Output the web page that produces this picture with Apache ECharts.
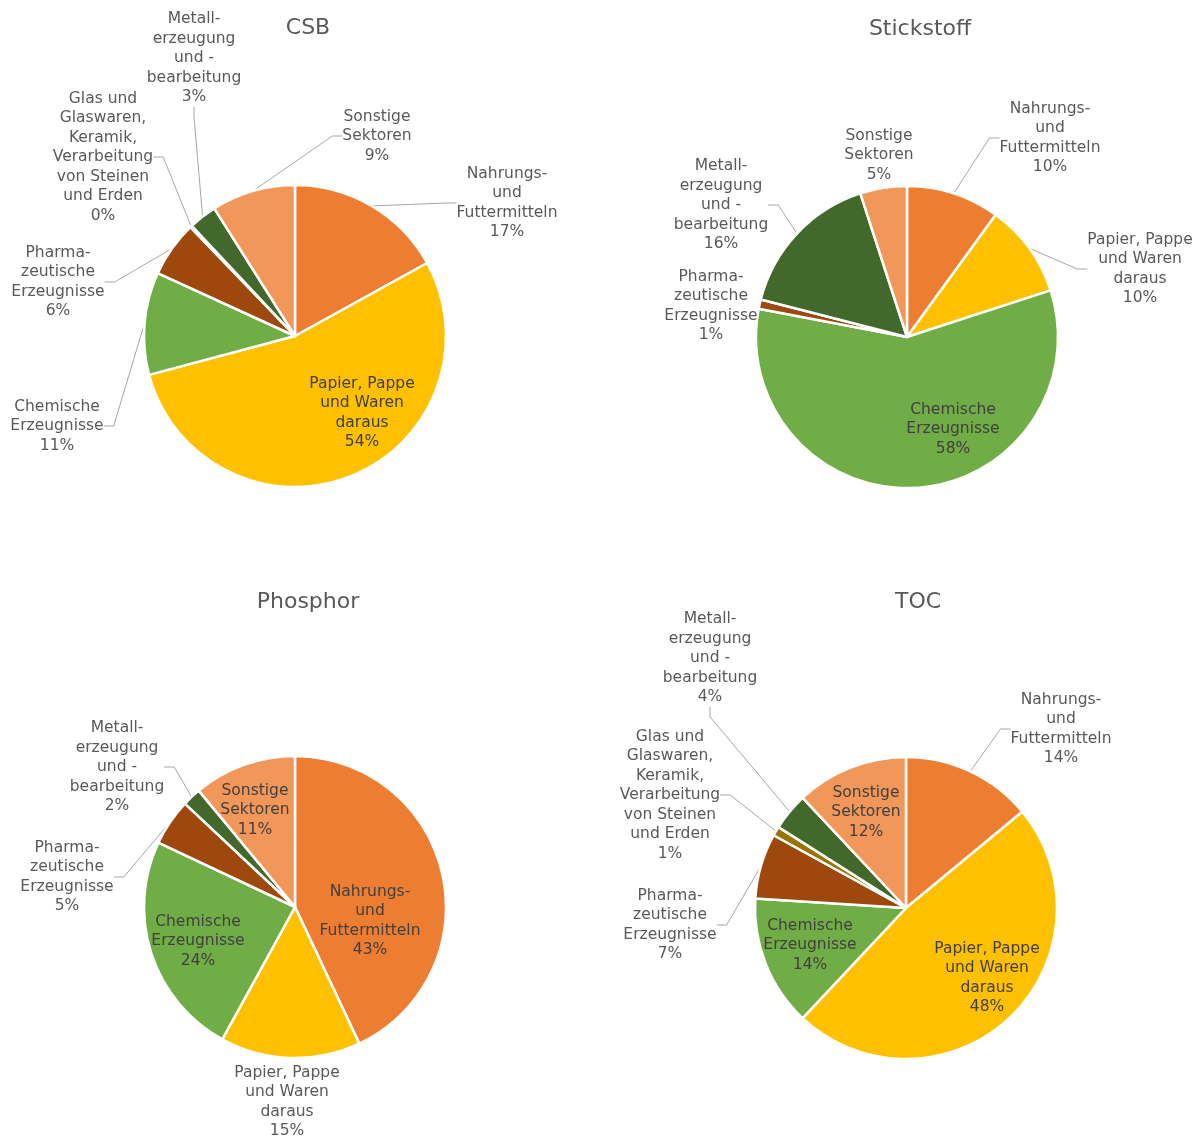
<!DOCTYPE html>
<html>
<head>
<meta charset="utf-8">
<title>Abwasserfrachten nach Sektoren</title>
<script src="https://cdn.jsdelivr.net/npm/echarts@6/dist/echarts.min.js"></script>
<style>
  html, body { margin: 0; padding: 0; background: #ffffff; }
  #chart { width: 1200px; height: 1137px; }
</style>
</head>
<body>
<div id="chart"></div>
<script>
// Sectors (line breaks as wrapped in the labels)
const categories = [
  'Nahrungs-\nund\nFuttermitteln',
  'Papier, Pappe\nund Waren\ndaraus',
  'Chemische\nErzeugnisse',
  'Pharma-\nzeutische\nErzeugnisse',
  'Glas und\nGlaswaren,\nKeramik,\nVerarbeitung\nvon Steinen\nund Erden',
  'Metall-\nerzeugung\nund -\nbearbeitung',
  'Sonstige\nSektoren'
];

const chartTitles = ['CSB', 'Stickstoff', 'Phosphor', 'TOC'];

// Shares per sector in percent (null = sector not present in that chart)
const csbShares        = [17, 54, 11, 6, 0.2, 3, 9];
const stickstoffShares = [10, 10, 58, 1, null, 16, 5];
const phosphorShares   = [43, 15, 24, 5, null, 2, 11];
const tocShares        = [14, 48, 14, 7, 1, 4, 12];

// Sector colours
const sectorColors = ['#ED7D31', '#FFC000', '#70AD47', '#9E480E', '#997300', '#43682B', '#F1975A'];

// Pie geometry and label placement for each panel
const panels = [
  {
    shares: csbShares, center: [295, 336], titlePos: [308, 17],
    inside: [1], noLine: [],
    labelAt: { 0: [507, 203], 1: [362, 413], 2: [57, 426], 3: [58, 282], 4: [103, 157], 5: [194, 58], 6: [377, 136] }
  },
  {
    shares: stickstoffShares, center: [907, 337], titlePos: [920, 18],
    inside: [2], noLine: [6],
    labelAt: { 0: [1050, 138], 1: [1140, 269], 2: [953, 429], 3: [711, 306], 5: [721, 205], 6: [879, 155] }
  },
  {
    shares: phosphorShares, center: [295, 907], titlePos: [308, 591],
    inside: [0, 2, 6], noLine: [1],
    labelAt: { 0: [370, 921], 1: [287, 1102], 2: [198, 941], 3: [67, 877], 5: [117, 767], 6: [255, 810] }
  },
  {
    shares: tocShares, center: [906, 908], titlePos: [918, 591],
    inside: [1, 2, 6], noLine: [],
    labelAt: { 0: [1061, 729], 1: [987, 978], 2: [810, 945], 3: [670, 925], 4: [670, 795], 5: [710, 658], 6: [866, 812] }
  }
];

const FONT = "'Century Gothic', 'DejaVu Sans', sans-serif";
const TEXT_COLOR = '#595959';

const chart = echarts.init(document.getElementById('chart'), null, { renderer: 'canvas' });

const titles = panels.map((p, i) => ({
  text: chartTitles[i],
  left: p.titlePos[0],
  top: p.titlePos[1],
  textAlign: 'center',
  padding: 0,
  textStyle: { fontFamily: FONT, fontSize: 22, fontWeight: 'normal', color: TEXT_COLOR }
}));

const series = panels.map((p) => {
  const sectorIndex = [];
  const data = [];
  p.shares.forEach((v, ci) => {
    if (v == null) return;
    sectorIndex.push(ci);
    const isInside = p.inside.indexOf(ci) >= 0;
    const hideLine = isInside || p.noLine.indexOf(ci) >= 0;
    data.push({
      name: categories[ci],
      value: v,
      itemStyle: { color: sectorColors[ci] },
      label: isInside ? { position: 'inside', color: '#404040' } : {},
      labelLine: { show: !hideLine }
    });
  });
  return {
    type: 'pie',
    center: p.center,
    radius: [0, 151],
    startAngle: 90,
    clockwise: true,
    percentPrecision: 0,
    avoidLabelOverlap: false,
    animation: false,
    itemStyle: { borderColor: '#ffffff', borderWidth: 2.5 },
    label: {
      show: true,
      position: 'outside',
      formatter: '{b}\n{d}%',
      fontFamily: FONT,
      fontSize: 15.5,
      lineHeight: 19.5,
      color: TEXT_COLOR,
      align: 'center'
    },
    labelLine: {
      show: true,
      length: 10,
      length2: 10,
      lineStyle: { color: '#A6A6A6', width: 1 }
    },
    labelLayout: function (params) {
      const pos = p.labelAt[sectorIndex[params.dataIndex]];
      return { x: pos[0], y: pos[1], align: 'center', verticalAlign: 'middle' };
    },
    data: data
  };
});

chart.setOption({
  backgroundColor: '#ffffff',
  title: titles,
  series: series
});
</script>
</body>
</html>
